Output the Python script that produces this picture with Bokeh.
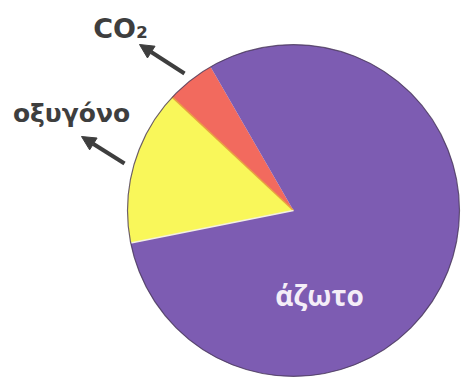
import math
from bokeh.plotting import figure
from bokeh.models import ColumnDataSource, Arrow, NormalHead, Range1d
from bokeh.core.properties import value
from bokeh.embed import file_html
from bokeh.resources import INLINE

# data (share of air, %), counter-clockwise order starting at the CO2 slice
labels = ["CO₂", "οξυγόνο", "άζωτο"]
shares = [4.7, 15.1, 80.2]
colors = ["#f26a5e", "#f9f75a", "#7d5cb2"]

W, H = 466, 381
cx, cy, R = 293, H - 210, 166
start_deg = 120.0

starts, ends = [], []
acc = start_deg
total = sum(shares)
for s in shares:
    starts.append(math.radians(acc))
    acc += s / total * 360.0
    ends.append(math.radians(acc))

src = ColumnDataSource(dict(start=starts, end=ends, color=colors, label=labels))

p = figure(width=W, height=H, output_backend="svg", toolbar_location=None,
           x_range=Range1d(0, W), y_range=Range1d(0, H), min_border=0)
p.axis.visible = False
p.grid.visible = False
p.outline_line_color = None
p.background_fill_color = "white"

p.wedge(x=cx, y=cy, radius=R, start_angle="start", end_angle="end",
        fill_color="color", line_color=None, source=src)

# slice boundary lines
bcol = ["#e8a040", "#f4f0e0"]
for ang, c in zip(ends[:2], bcol):
    p.segment(x0=cx, y0=cy, x1=cx + R * math.cos(ang), y1=cy + R * math.sin(ang),
              line_color=c, line_width=1.5)

# outer rim
p.circle(x=cx, y=cy, radius=R, fill_color=None, line_color="#4a3a5a",
         line_width=1.2, line_alpha=0.8)

# outside labels with arrows
text_col = "#3e3e3e"
p.text(x=[120], y=[H - 28], text=[labels[0]],
       text_font=value("DejaVu Sans"), text_font_style="bold", text_font_size="27px",
       text_color=text_col, text_align="center", text_baseline="middle")
p.text(x=[71], y=[H - 113], text=[labels[1]],
       text_font=value("DejaVu Sans"), text_font_style="bold", text_font_size="25px",
       text_color=text_col, text_align="center", text_baseline="middle")

for (x0, y0, x1, y1) in [(184, 73, 139, 44), (124, 163, 81, 136)]:
    p.add_layout(Arrow(x_start=x0, y_start=H - y0, x_end=x1, y_end=H - y1,
                       line_color=text_col, line_width=4,
                       end=NormalHead(size=14, fill_color=text_col, line_color=text_col)))

# inside label
p.text(x=[319], y=[H - 294], text=[labels[2]],
       text_font=value("Open Sans"), text_font_style="bold", text_font_size="28px",
       text_color="#f4eef8", text_align="center", text_baseline="middle")

open("out.html", "w").write(file_html(p, INLINE))
